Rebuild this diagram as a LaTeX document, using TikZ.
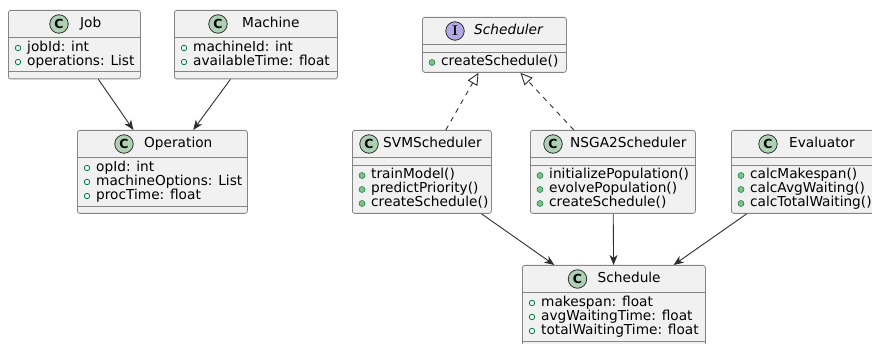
\documentclass[tikz,border=0pt]{standalone}
\usepackage{fontspec}
\newfontfamily\umlfont{DejaVu Sans}
\usetikzlibrary{arrows.meta,positioning}
\definecolor{boxfill}{HTML}{F1F1F1}
\definecolor{boxline}{HTML}{858585}
\definecolor{linkcol}{HTML}{2E2E2E}
\definecolor{classc}{HTML}{ADD1B2}
\definecolor{classi}{HTML}{B4A7E5}
\definecolor{fieldcol}{HTML}{038048}
\definecolor{methcol}{HTML}{84BE84}
\tikzset{
     umlbox/.style={rectangle, draw=boxline, fill=boxfill, rounded corners=2.5pt,
       line width=0.8pt, anchor=north west, inner sep=0pt},
     sep/.style={draw=boxline, line width=0.8pt},
     badge/.style={circle, draw=linkcol, fill=#1, line width=0.8pt, minimum size=18.5pt,
       inner sep=0pt, font=\umlfont\bfseries\fontsize{12.5}{13}\selectfont},
     cbadge/.style={badge=classc},
     ibadge/.style={badge=classi, font=\rmfamily\bfseries\fontsize{14}{14}\selectfont},
     cname/.style={anchor=west, inner sep=0pt, text height=10pt, text depth=3pt},
     member/.style={anchor=west, inner sep=0pt, text height=10pt, text depth=3pt},
     field/.style={circle, draw=fieldcol, line width=0.8pt, minimum size=5.5pt, inner sep=0pt},
     meth/.style={circle, draw=fieldcol, fill=methcol, line width=0.5pt, minimum size=6pt, inner sep=0pt},
     assoc/.style={draw=linkcol, line width=0.9pt, -{Stealth[length=10pt, width=8pt, inset=3pt]}},
     realize/.style={draw=linkcol, line width=0.9pt, dash pattern=on 5pt off 5pt,
       -{Triangle[length=12pt, width=11pt, fill=white]}},
}

\begin{document}
\begin{tikzpicture}[x=1pt, y=-1pt, font=\umlfont\fontsize{13.7}{16}\selectfont]
		\useasboundingbox (0,0) rectangle (872,344);
		\clip (0,0) rectangle (872,344);

		%% Job
		\begin{scope}[shift={(8,10)}]
		\node[umlbox, minimum width=132pt, minimum height=68.5pt] (job) at (0,0) {};
		\draw[sep] (0,27.5) -- (132,27.5);
		\draw[sep] (0,61.5) -- (132,61.5);
		\node[cbadge] (job-c) at (51,14) {C};
		\node[cname] (job-n) at (72,14) {Job};
		\node[field] (job-m1) at (10,38) {};
		\node[member] (job-a1) at (19,38) {jobId: int};
		\node[field] (job-m2) at (10,52) {};
		\node[member] (job-a2) at (19,52) {operations: List};
		\end{scope}

		%% Machine
		\begin{scope}[shift={(174,10)}]
		\node[umlbox, minimum width=163pt, minimum height=68.5pt] (machine) at (0,0) {};
		\draw[sep] (0,27.5) -- (163,27.5);
		\draw[sep] (0,61.5) -- (163,61.5);
		\node[cbadge] (machine-c) at (44,14) {C};
		\node[cname] (machine-n) at (68,14) {Machine};
		\node[field] (machine-m1) at (10,38) {};
		\node[member] (machine-a1) at (19,38) {machineId: int};
		\node[field] (machine-m2) at (10,52) {};
		\node[member] (machine-a2) at (19,52) {availableTime: float};
		\end{scope}

		%% Operation
		\begin{scope}[shift={(77,130)}]
		\node[umlbox, minimum width=170pt, minimum height=83pt] (operation) at (0,0) {};
		\draw[sep] (0,27.5) -- (170,27.5);
		\draw[sep] (0,76) -- (170,76);
		\node[cbadge] (operation-c) at (47,14) {C};
		\node[cname] (operation-n) at (67,14) {Operation};
		\node[field] (operation-m1) at (10,38) {};
		\node[member] (operation-a1) at (19,38) {opId: int};
		\node[field] (operation-m2) at (10,52) {};
		\node[member] (operation-a2) at (19,52) {machineOptions: List};
		\node[field] (operation-m3) at (10,66) {};
		\node[member] (operation-a3) at (19,66) {procTime: float};
		\end{scope}

		%% Scheduler (interface)
		\begin{scope}[shift={(422,17)}]
		\node[umlbox, minimum width=144pt, minimum height=55pt] (scheduler) at (0,0) {};
		\draw[sep] (0,27.5) -- (144,27.5);
		\draw[sep] (0,35) -- (144,35);
		\node[ibadge] (scheduler-c) at (33,14) {I};
		\node[cname] (scheduler-n) at (52,14) {\itshape Scheduler};
		\node[meth] (scheduler-m1) at (10,45.5) {};
		\node[member] (scheduler-o1) at (19,45.5) {createSchedule()};
		\end{scope}

		%% SVMScheduler
		\begin{scope}[shift={(352,130)}]
		\node[umlbox, minimum width=139pt, minimum height=83pt] (svm) at (0,0) {};
		\draw[sep] (0,27.5) -- (139,27.5);
		\draw[sep] (0,35) -- (139,35);
		\node[cbadge] (svm-c) at (17,14) {C};
		\node[cname] (svm-n) at (31,14) {SVMScheduler};
		\node[meth] (svm-m1) at (10,45.5) {};
		\node[member] (svm-o1) at (19,45.5) {trainModel()};
		\node[meth] (svm-m2) at (10,59.5) {};
		\node[member] (svm-o2) at (19,59.5) {predictPriority()};
		\node[meth] (svm-m3) at (10,73.5) {};
		\node[member] (svm-o3) at (19,73.5) {createSchedule()};
		\end{scope}

		%% NSGA2Scheduler
		\begin{scope}[shift={(530,130)}]
		\node[umlbox, minimum width=165pt, minimum height=83pt] (nsga) at (0,0) {};
		\draw[sep] (0,27.5) -- (165,27.5);
		\draw[sep] (0,35) -- (165,35);
		\node[cbadge] (nsga-c) at (23,14) {C};
		\node[cname] (nsga-n) at (40,14) {NSGA2Scheduler};
		\node[meth] (nsga-m1) at (10,45.5) {};
		\node[member] (nsga-o1) at (19,45.5) {initializePopulation()};
		\node[meth] (nsga-m2) at (10,59.5) {};
		\node[member] (nsga-o2) at (19,59.5) {evolvePopulation()};
		\node[meth] (nsga-m3) at (10,73.5) {};
		\node[member] (nsga-o3) at (19,73.5) {createSchedule()};
		\end{scope}

		%% Evaluator
		\begin{scope}[shift={(731,130)}]
		\node[umlbox, minimum width=150pt, minimum height=83pt] (evaluator) at (0,0) {};
		\draw[sep] (0,27.5) -- (150,27.5);
		\draw[sep] (0,35) -- (150,35);
		\node[cbadge] (evaluator-c) at (37,14) {C};
		\node[cname] (evaluator-n) at (58,14) {Evaluator};
		\node[meth] (evaluator-m1) at (10,45.5) {};
		\node[member] (evaluator-o1) at (19,45.5) {calcMakespan()};
		\node[meth] (evaluator-m2) at (10,59.5) {};
		\node[member] (evaluator-o2) at (19,59.5) {calcAvgWaiting()};
		\node[meth] (evaluator-m3) at (10,73.5) {};
		\node[member] (evaluator-o3) at (19,73.5) {calcTotalWaiting()};
		\end{scope}

		%% Schedule
		\begin{scope}[shift={(522,265)}]
		\node[umlbox, minimum width=183pt, minimum height=83pt] (schedule) at (0,0) {};
		\draw[sep] (0,27.5) -- (183,27.5);
		\draw[sep] (0,76) -- (183,76);
		\node[cbadge] (schedule-c) at (55.5,14) {C};
		\node[cname] (schedule-n) at (75.5,14) {Schedule};
		\node[field] (schedule-m1) at (10,38) {};
		\node[member] (schedule-a1) at (19,38) {makespan: float};
		\node[field] (schedule-m2) at (10,52) {};
		\node[member] (schedule-a2) at (19,52) {avgWaitingTime: float};
		\node[field] (schedule-m3) at (10,66) {};
		\node[member] (schedule-a3) at (19,66) {totalWaitingTime: float};
		\end{scope}

		%% links
		\draw[assoc] (job) -- (operation);
		\draw[assoc] (machine) -- (operation);
		\draw[realize] (svm) -- (scheduler);
		\draw[realize] (nsga) -- (scheduler);
		\draw[assoc] (svm) -- (schedule);
		\draw[assoc] (nsga) -- (schedule);
		\draw[assoc] (evaluator) -- (schedule);

\end{tikzpicture}
\end{document}
